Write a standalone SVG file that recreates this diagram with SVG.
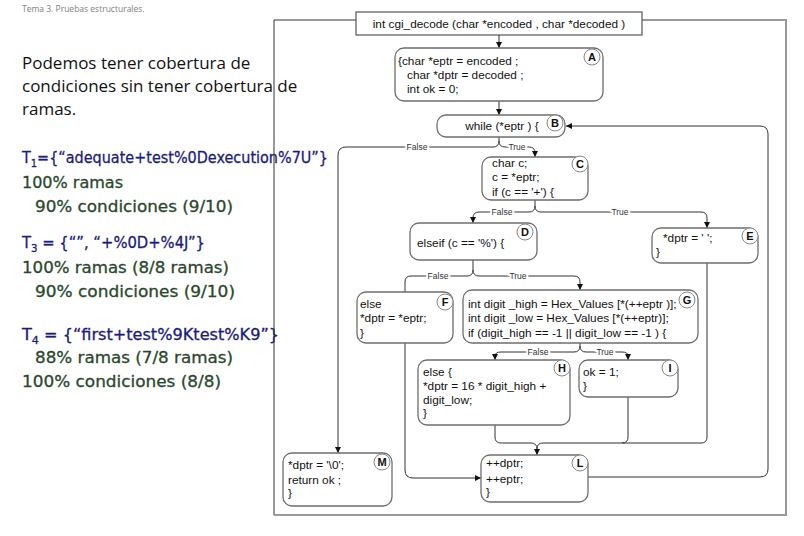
<svg xmlns="http://www.w3.org/2000/svg" width="804" height="536" viewBox="0 0 804 536">
<defs>
<marker id="arr" markerWidth="6" markerHeight="6" refX="6" refY="3" orient="auto" markerUnits="userSpaceOnUse">
<path d="M0,0 L6,3 L0,6 z" fill="#111"/>
</marker>
</defs>
<style>
.code{font-family:"Liberation Sans",Arial,sans-serif;font-size:11.8px;fill:#111}
.box{fill:#fff;stroke:#6e6e6e;stroke-width:1.3}
.badge{fill:#fff;stroke:#888;stroke-width:1}
.bl{font-family:"Liberation Sans",Arial,sans-serif;font-size:11px;font-weight:bold;fill:#111;text-anchor:middle}
.edge{fill:none;stroke:#333;stroke-width:1}
.lbl{font-family:"Liberation Sans",Arial,sans-serif;font-size:8.5px;fill:#333;text-anchor:middle;stroke:#fff;stroke-width:4;paint-order:stroke}
.head{font-family:"Open Sans",sans-serif;font-size:17px;fill:#111}
.lt{font-family:"DejaVu Sans",Verdana,sans-serif;font-size:16px;stroke-width:0.3}
.blue{fill:#1a1a80;stroke:#1a1a80}
.green{fill:#2a472c;stroke:#2a472c}
</style>
<!-- left text -->
<text x="22" y="12" font-family="Open Sans, sans-serif" font-size="8.5" fill="#808080">Tema 3. Pruebas estructurales.</text>
<text class="head" x="22" y="69">Podemos tener cobertura de</text>
<text class="head" x="22" y="92">condiciones sin tener cobertura de</text>
<text class="head" x="22" y="115">ramas.</text>
<text class="lt blue" x="22" y="163" textLength="306" lengthAdjust="spacingAndGlyphs">T<tspan font-size="11" dy="4">1</tspan><tspan dy="-4">={“adequate+test%0Dexecution%7U”}</tspan></text>
<text class="lt green" x="22" y="188" textLength="101" lengthAdjust="spacingAndGlyphs">100% ramas</text>
<text class="lt green" x="35" y="212" textLength="198" lengthAdjust="spacingAndGlyphs">90% condiciones (9/10)</text>
<text class="lt blue" x="22" y="248" textLength="183" lengthAdjust="spacingAndGlyphs">T<tspan font-size="11" dy="4">3</tspan><tspan dy="-4"> = {“”, “+%0D+%4J”}</tspan></text>
<text class="lt green" x="22" y="273" textLength="207" lengthAdjust="spacingAndGlyphs">100% ramas (8/8 ramas)</text>
<text class="lt green" x="35" y="297" textLength="200" lengthAdjust="spacingAndGlyphs">90% condiciones (9/10)</text>
<text class="lt blue" x="22" y="340" textLength="257" lengthAdjust="spacingAndGlyphs">T<tspan font-size="11" dy="4">4</tspan><tspan dy="-4"> = {“first+test%9Ktest%K9”}</tspan></text>
<text class="lt green" x="35" y="363" textLength="198" lengthAdjust="spacingAndGlyphs">88% ramas (7/8 ramas)</text>
<text class="lt green" x="22" y="387" textLength="199" lengthAdjust="spacingAndGlyphs">100% condiciones (8/8)</text>
<!-- frame -->
<path d="M356,20 H274 V515" fill="none" stroke="#333" stroke-width="1"/>
<path d="M274,515 H786 V20 H642" fill="none" stroke="#999" stroke-width="2"/>
<g id="header">
<rect x="356" y="12" width="286" height="23" fill="#fff" stroke="#555" stroke-width="1.2"/>
<text class="code" x="499" y="28" text-anchor="middle" font-size="11">int cgi_decode (char *encoded , char *decoded )</text>
</g>
<g id="connectors">
<path class="edge" d="M499,35 V48" marker-end="url(#arr)"/>
<path class="edge" d="M499,101 V115" marker-end="url(#arr)"/>
<path class="edge" d="M499,137 V141 Q499,147 493,147 H346 Q338,147 338,155 V453" marker-end="url(#arr)"/>
<path class="edge" d="M499,141 Q499,147 505,147 H529 Q535,147 535,153 V157" marker-end="url(#arr)"/>
<text class="lbl" x="417" y="150">False</text>
<text class="lbl" x="517" y="150">True</text>
<path class="edge" d="M535,200 V206 Q535,212 529,212 H479 Q473,212 473,218 V223" marker-end="url(#arr)"/>
<path class="edge" d="M535,206 Q535,212 541,212 H701 Q707,212 707,218 V228" marker-end="url(#arr)"/>
<text class="lbl" x="502" y="215">False</text>
<text class="lbl" x="620" y="215">True</text>
<path class="edge" d="M473,260 V270 Q473,276 467,276 H411 Q405,276 405,282 V292"/>
<path class="edge" d="M473,270 Q473,276 479,276 H574 Q580,276 580,282 V290" marker-end="url(#arr)"/>
<text class="lbl" x="438" y="279">False</text>
<text class="lbl" x="518" y="279">True</text>
<path class="edge" d="M580,343 V346 Q580,352 574,352 H501 Q495,352 495,356 V360" marker-end="url(#arr)"/>
<path class="edge" d="M580,346 Q580,352 586,352 H622 Q628,352 628,356 V360" marker-end="url(#arr)"/>
<text class="lbl" x="538" y="355">False</text>
<text class="lbl" x="605" y="355">True</text>
<path class="edge" d="M495,425 V437 Q495,443 501,443 H531 Q537,443 537,449 V455" marker-end="url(#arr)"/>
<path class="edge" d="M628,397 V437 Q628,443 622,443"/>
<path class="edge" d="M707,263 V437 Q707,443 701,443 H543 Q537,443 537,449"/>
<path class="edge" d="M405,343 V470 Q405,478 413,478 H481" marker-end="url(#arr)"/>
<path class="edge" d="M588,477 H760 Q768,477 768,469 V134 Q768,126 760,126 H566" marker-end="url(#arr)"/>
</g>
<g id="A">
<rect class="box" x="395" y="48" width="208" height="53" rx="9"/>
<text class="code" x="398" y="65">{char *eptr = encoded ;</text>
<text class="code" x="407" y="79">char *dptr = decoded ;</text>
<text class="code" x="407" y="93">int ok = 0;</text>
<circle class="badge" cx="592" cy="57" r="8"/><text class="bl" x="592" y="61">A</text>
</g>
<g id="B">
<rect class="box" x="437" y="115" width="128" height="22" rx="9"/>
<text class="code" x="502" y="130" text-anchor="middle">while (*eptr ) {</text>
<circle class="badge" cx="555" cy="123" r="8"/><text class="bl" x="555" y="127">B</text>
</g>
<g id="C">
<rect class="box" x="482" y="157" width="106" height="43" rx="9"/>
<text class="code" x="492" y="167">char c;</text>
<text class="code" x="492" y="181">c = *eptr;</text>
<text class="code" x="492" y="196">if (c == '+') {</text>
<circle class="badge" cx="580" cy="164" r="8"/><text class="bl" x="580" y="168">C</text>
</g>
<g id="D">
<rect class="box" x="410" y="223" width="127" height="37" rx="9"/>
<text class="code" x="417" y="247">elseif (c == '%') {</text>
<circle class="badge" cx="525" cy="232" r="8"/><text class="bl" x="525" y="236">D</text>
</g>
<g id="E">
<rect class="box" x="652" y="228" width="106" height="35" rx="9"/>
<text class="code" x="663" y="242">*dptr = ' ';</text>
<text class="code" x="656" y="256">}</text>
<circle class="badge" cx="750" cy="236" r="8"/><text class="bl" x="750" y="240">E</text>
</g>
<g id="F">
<rect class="box" x="357" y="292" width="96" height="51" rx="9"/>
<text class="code" x="360" y="308">else</text>
<text class="code" x="360" y="322">*dptr = *eptr;</text>
<text class="code" x="360" y="337">}</text>
<circle class="badge" cx="445" cy="302" r="8"/><text class="bl" x="445" y="306">F</text>
</g>
<g id="G">
<rect class="box" x="463" y="290" width="235" height="53" rx="9"/>
<text class="code" x="468" y="308">int digit _high = Hex_Values [*(++eptr )];</text>
<text class="code" x="468" y="322">int digit _low = Hex_Values [*(++eptr)];</text>
<text class="code" x="468" y="337">if (digit_high  == -1 || digit_low == -1 ) {</text>
<circle class="badge" cx="687" cy="300" r="8"/><text class="bl" x="687" y="304">G</text>
</g>
<g id="H">
<rect class="box" x="418" y="360" width="152" height="65" rx="9"/>
<text class="code" x="423" y="376">else {</text>
<text class="code" x="423" y="390">*dptr = 16 * digit_high +</text>
<text class="code" x="423" y="404">digit_low;</text>
<text class="code" x="423" y="417">}</text>
<circle class="badge" cx="562" cy="368" r="8"/><text class="bl" x="562" y="372">H</text>
</g>
<g id="I">
<rect class="box" x="579" y="360" width="99" height="37" rx="9"/>
<text class="code" x="583" y="376">ok = 1;</text>
<text class="code" x="583" y="390">}</text>
<circle class="badge" cx="670" cy="368" r="8"/><text class="bl" x="670" y="372">I</text>
</g>
<g id="L">
<rect class="box" x="481" y="455" width="107" height="47" rx="9"/>
<text class="code" x="486" y="467">++dptr;</text>
<text class="code" x="486" y="483">++eptr;</text>
<text class="code" x="486" y="496">}</text>
<circle class="badge" cx="580" cy="463" r="8"/><text class="bl" x="580" y="467">L</text>
</g>
<g id="M">
<rect class="box" x="283" y="453" width="109" height="53" rx="9"/>
<text class="code" x="288" y="469">*dptr = '\0';</text>
<text class="code" x="288" y="484">return ok ;</text>
<text class="code" x="288" y="497">}</text>
<circle class="badge" cx="382" cy="462" r="8"/><text class="bl" x="382" y="466">M</text>
</g>
</svg>
